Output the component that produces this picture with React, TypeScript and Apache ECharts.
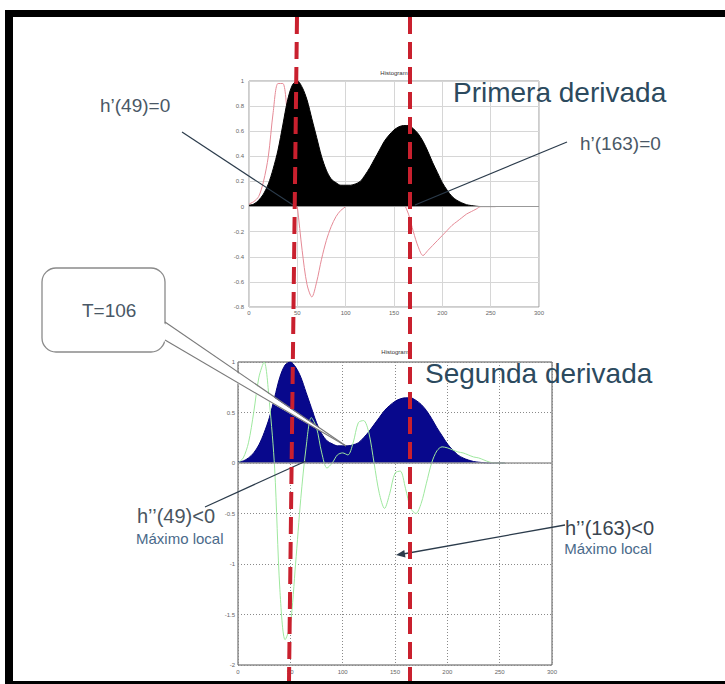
import React, { useEffect, useRef } from "react";
import * as echarts from "echarts";

// Grey levels (bins) sampled every 5
const bins = [
  0, 5, 10, 15, 20, 25, 30, 35, 40, 45,
  50, 55, 60, 65, 70, 75, 80, 85, 90, 95,
  100, 105, 110, 115, 120, 125, 130, 135, 140, 145,
  150, 155, 160, 165, 170, 175, 180, 185, 190, 195,
  200, 205, 210, 215, 220, 225, 230, 235, 240, 245,
  250, 255,
];

// Normalised histogram h(x)
const histogram = [
  0.01, 0.02, 0.05, 0.1, 0.18, 0.3, 0.45, 0.65, 0.85, 0.97,
  1.0, 0.95, 0.85, 0.7, 0.55, 0.4, 0.29, 0.22, 0.19, 0.17,
  0.17, 0.17, 0.18, 0.2, 0.25, 0.31, 0.38, 0.45, 0.52, 0.57,
  0.61, 0.635, 0.645, 0.645, 0.62, 0.58, 0.52, 0.44, 0.35, 0.27,
  0.19, 0.13, 0.08, 0.05, 0.03, 0.015, 0.008, 0.003, 0, 0,
  0, 0,
];

// First derivative h'(x) (scaled)
const firstDerivative = [
  0.02, 0.04, 0.08, 0.2, 0.4, 0.75, 0.98, 0.98, 0.7, 0.3,
  0, -0.35, -0.62, -0.72, -0.6, -0.42, -0.27, -0.16, -0.08, -0.03,
  0, 0.05, 0.1, 0.16, 0.22, 0.27, 0.3, 0.3, 0.27, 0.22,
  0.16, 0.1, 0.03, -0.06, -0.2, -0.32, -0.39, -0.35, -0.31, -0.27,
  -0.23, -0.19, -0.15, -0.12, -0.09, -0.06, -0.04, -0.02, 0, 0,
  0, 0,
];

// Second derivative h''(x) (scaled)
const secondDerivative = [
  0, 0.05, 0.2, 0.5, 0.85, 1.0, 0.6, -0.05, -1.25, -1.75,
  -1.6, -1.0, -0.35, 0.15, 0.45, 0.35, 0.1, -0.05, 0, 0.08,
  0.1, 0.08, 0.2, 0.4, 0.42, 0.3, 0, -0.3, -0.45, -0.3,
  -0.1, -0.08, -0.25, -0.45, -0.5, -0.4, -0.2, 0, 0.12, 0.16,
  0.15, 0.13, 0.11, 0.1, 0.08, 0.06, 0.05, 0.03, 0.01, 0,
  0, 0,
];

const plotTitle = "Histogram";
const topTitle = "Primera derivada";
const bottomTitle = "Segunda derivada";
const labelFirst49 = "h’(49)=0";
const labelFirst163 = "h’(163)=0";
const labelThreshold = "T=106";
const labelSecond49 = "h’’(49)<0";
const labelSecond163 = "h’’(163)<0";
const labelMax = "Máximo local";

const FONT = "'Liberation Sans', Arial, Helvetica, sans-serif";

function pairs(values: number[]) {
  return bins.map((x, i) => [x, values[i]]);
}

function text(t: string, x: number, y: number, size: number, fill: string, align = "left") {
  return {
    type: "text",
    x,
    y,
    z: 120,
    style: {
      text: t,
      fontSize: size,
      fontFamily: FONT,
      fill,
      align,
      verticalAlign: "middle",
    },
  };
}

function seg(x1: number, y1: number, x2: number, y2: number, stroke: string, lineWidth: number, z = 110, lineDash?: number[]) {
  return {
    type: "line",
    z,
    shape: { x1, y1, x2, y2 },
    style: { stroke, lineWidth, lineDash },
  };
}

export default function App() {
  const ref = useRef<HTMLDivElement>(null);

  useEffect(() => {
    if (!ref.current) return;
    const chart = echarts.init(ref.current, undefined, { renderer: "svg" });

    const tickLabel = { fontSize: 6, color: "#666", fontFamily: FONT };

    const option: any = {
      animation: false,
      backgroundColor: "#fff",
      grid: [
        { left: 249, top: 81, width: 290, height: 226, show: true, borderColor: "#9a9a9a", borderWidth: 1 },
        { left: 238, top: 362, width: 314, height: 303, show: true, borderColor: "#555", borderWidth: 1 },
      ],
      xAxis: [
        {
          gridIndex: 0, type: "value", min: 0, max: 300, interval: 50,
          axisLine: { show: false }, axisTick: { show: false },
          axisLabel: { ...tickLabel, margin: 3 },
          splitLine: { show: true, lineStyle: { color: "#d6d6d6", width: 1 } },
        },
        {
          gridIndex: 1, type: "value", min: 0, max: 300, interval: 50,
          axisLine: { show: false }, axisTick: { show: false },
          axisLabel: { ...tickLabel, margin: 4 },
          splitLine: { show: true, lineStyle: { color: "#8a8a8a", width: 1, type: [1, 2] } },
        },
      ],
      yAxis: [
        {
          gridIndex: 0, type: "value", min: -0.8, max: 1, interval: 0.2,
          axisLine: { show: false }, axisTick: { show: false },
          axisLabel: { ...tickLabel, margin: 5 },
          splitLine: { show: true, lineStyle: { color: "#d6d6d6", width: 1 } },
        },
        {
          gridIndex: 1, type: "value", min: -2, max: 1, interval: 0.5,
          axisLine: { show: false }, axisTick: { show: false },
          axisLabel: { ...tickLabel, margin: 3 },
          splitLine: { show: true, lineStyle: { color: "#8a8a8a", width: 1, type: [1, 2] } },
        },
      ],
      series: [
        {
          type: "line", xAxisIndex: 0, yAxisIndex: 0, data: pairs(firstDerivative),
          z: 1,
          smooth: 0.3, showSymbol: false, symbol: "none",
          lineStyle: { color: "#e58a96", width: 1 },
        },
        {
          type: "line", xAxisIndex: 0, yAxisIndex: 0, data: pairs(histogram),
          z: 3,
          smooth: 0.3, showSymbol: false, symbol: "none",
          lineStyle: { color: "#000", width: 1 },
          areaStyle: { color: "#000", opacity: 1 },
          markLine: {
            silent: true, symbol: "none", label: { show: false },
            lineStyle: { color: "#999", width: 1.2, type: "solid" },
            data: [{ yAxis: 0 }],
          },
        },
        {
          type: "line", xAxisIndex: 1, yAxisIndex: 1, data: pairs(histogram),
          z: 2,
          smooth: 0.3, showSymbol: false, symbol: "none",
          lineStyle: { color: "#00007a", width: 1 },
          areaStyle: { color: "#08088c", opacity: 1 },
          markLine: {
            silent: true, symbol: "none", label: { show: false },
            lineStyle: { color: "#9a9a9a", width: 1.5, type: "solid" },
            data: [{ yAxis: 0 }],
          },
        },
        {
          type: "line", xAxisIndex: 1, yAxisIndex: 1, data: pairs(secondDerivative),
          z: 4,
          smooth: 0.3, showSymbol: false, symbol: "none",
          lineStyle: { color: "#9ee89e", width: 1 },
        },
      ],
      graphic: [
        // frame
        { type: "rect", z: 300, shape: { x: 5, y: 10, width: 720, height: 7 }, style: { fill: "#000" } },
        { type: "rect", z: 300, shape: { x: 5, y: 10, width: 8, height: 674 }, style: { fill: "#000" } },
        { type: "rect", z: 300, shape: { x: 5, y: 681, width: 720, height: 3 }, style: { fill: "#000" } },

        // plot titles
        text(plotTitle, 394, 73, 6, "#333", "center"),
        text(plotTitle, 395, 352, 6, "#333", "center"),

        // headings
        text(topTitle, 453, 92, 28, "#2c4a5e"),
        text(bottomTitle, 425, 373, 28, "#2c4a5e"),

        // first derivative annotations
        text(labelFirst49, 100, 105, 19, "#4a5866"),
        seg(182, 132, 293, 205, "#2b3b4b", 1.2),
        text(labelFirst163, 580, 143, 19, "#4a5866"),
        seg(567, 142, 415, 205, "#2b3b4b", 1.2),

        // T=106 callout
        {
          type: "rect", z: 100,
          shape: { x: 42, y: 268, width: 123, height: 84, r: 14 },
          style: { fill: "#fff", stroke: "#8a8a8a", lineWidth: 1.3 },
        },
        {
          type: "polygon", z: 101,
          shape: { points: [[162, 322], [346, 446], [162, 340]] },
          style: { fill: "#fff" },
        },
        seg(165, 322, 346, 446, "#7a7a7a", 1.1, 102),
        seg(165, 340, 346, 446, "#7a7a7a", 1.1, 102),
        text(labelThreshold, 82, 310, 19, "#4a5866"),

        // second derivative annotations
        text(labelSecond49, 137, 516, 20, "#4a5560"),
        text(labelMax, 136, 538, 15, "#4a6a8a"),
        seg(205, 507, 306, 461, "#2b3b4b", 1.2),
        text(labelSecond163, 565, 528, 20, "#3a4550"),
        text(labelMax, 608, 548, 15, "#4a6a8a", "center"),
        seg(565, 525, 403, 554, "#2b3b4b", 1.3),
        {
          type: "polygon", z: 110,
          shape: { points: [[396, 555], [405.5, 557.4], [404.3, 550]] },
          style: { fill: "#2b3b4b" },
        },

        // red dashed marker lines
        seg(297, 17, 289, 681, "#c9202e", 4, 200, [17, 8]),
        seg(410, 17, 410, 681, "#c9202e", 4, 200, [17, 8]),
      ],
    };

    chart.setOption(option);
    return () => chart.dispose();
  }, []);

  return (
    <div
      ref={ref}
      style={{ position: "absolute", left: 0, top: 0, width: 725, height: 684, background: "#fff" }}
    />
  );
}
